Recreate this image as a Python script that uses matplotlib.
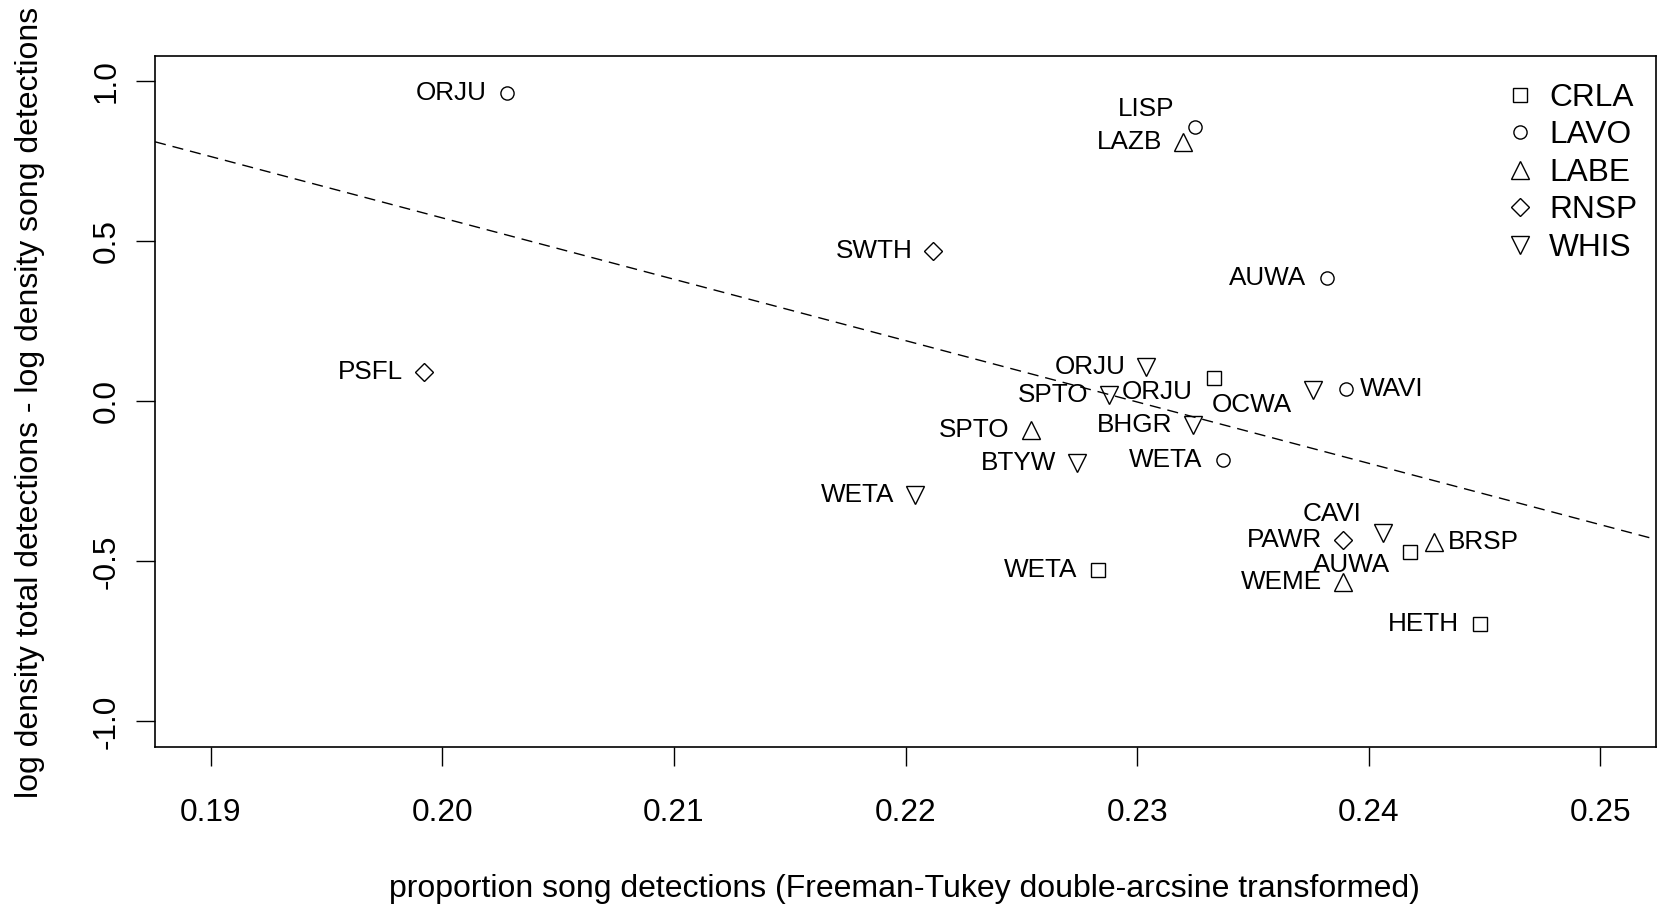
import numpy as np
import matplotlib
matplotlib.use("Agg")
import matplotlib.pyplot as plt
from matplotlib.lines import Line2D

plt.rcParams['font.family'] = ['Liberation Sans', 'DejaVu Sans']

# species points: label, group (legend), x, y
species = ["ORJU", "LISP", "LAZB", "SWTH", "AUWA", "PSFL", "ORJU", "ORJU",
           "SPTO", "OCWA", "WAVI", "SPTO", "BHGR", "BTYW", "WETA", "WETA",
           "CAVI", "PAWR", "AUWA", "BRSP", "WEME", "WETA", "HETH"]
group = ["LAVO", "LAVO", "LABE", "RNSP", "LAVO", "RNSP", "WHIS", "CRLA",
         "WHIS", "WHIS", "LAVO", "LABE", "WHIS", "WHIS", "LAVO", "WHIS",
         "WHIS", "RNSP", "CRLA", "LABE", "LABE", "CRLA", "CRLA"]
x = [0.2028, 0.2325, 0.2320, 0.2212, 0.2382, 0.1992, 0.2304, 0.2333,
     0.2288, 0.2376, 0.2390, 0.2254, 0.2324, 0.2274, 0.2337, 0.2204,
     0.2406, 0.2389, 0.2418, 0.2428, 0.2389, 0.2283, 0.2448]
y = [0.963, 0.857, 0.811, 0.471, 0.385, 0.091, 0.108, 0.074,
     0.020, 0.036, 0.038, -0.090, -0.074, -0.194, -0.183, -0.292,
     -0.412, -0.433, -0.472, -0.439, -0.565, -0.527, -0.695]

groups = ["CRLA", "LAVO", "LABE", "RNSP", "WHIS"]

# fitted line (abline)
intercept = 4.407
slope = -19.17

xticks = [0.19, 0.20, 0.21, 0.22, 0.23, 0.24, 0.25]
yticks = [-1.0, -0.5, 0.0, 0.5, 1.0]

# styling
markers = {"CRLA": ("s", 10.5), "LAVO": ("o", 9.5), "LABE": ("^", 12.5),
           "RNSP": ("D", 9.5), "WHIS": ("v", 12.5)}
# label offsets in points (dx, dy, ha); default left of the point
offsets = {1: (-15, 13, "right"), 7: (-15, -10, "right"), 9: (-15, -11, "right"),
           10: (10, 0, "left"), 16: (-15, 14, "right"), 18: (-15, -9, "right"),
           19: (10.5, 0, "left")}

fig = plt.figure(figsize=(16.58, 9.07), dpi=100)
ax = fig.add_axes([0.0935, 0.1764, 0.9053, 0.7623])

for i in range(len(x)):
    m, ms = markers[group[i]]
    ax.plot(x[i], y[i], linestyle="none", marker=m, markersize=ms,
            markerfacecolor="none", markeredgecolor="black", markeredgewidth=1.0)
    dx, dy, ha = offsets.get(i, (-15, 0, "right"))
    ax.annotate(species[i], (x[i], y[i]), xytext=(dx, dy), textcoords="offset points",
                ha=ha, va="center", fontsize=18.8)

xl = (0.19 - 0.0024, 0.25 + 0.0024)
yl = (-1.08, 1.08)
xx = np.array(xl)
ax.plot(xx, intercept + slope * xx, color="black", linewidth=1.0, dashes=(8, 5))

ax.set_xlim(xl)
ax.set_ylim(yl)
ax.set_xticks(xticks)
ax.set_xticklabels(["%.2f" % v for v in xticks])
ax.set_yticks(yticks)
ax.set_yticklabels(["%.1f" % v for v in yticks], rotation=90, va="center")
ax.tick_params(axis="both", direction="out", length=14, width=1.0, labelsize=22.8)
ax.tick_params(axis="x", pad=22.8)
ax.tick_params(axis="y", pad=10)
for s in ax.spines.values():
    s.set_linewidth(1.2)

handles = [Line2D([], [], linestyle="none", marker=markers[g][0], markersize=markers[g][1],
                  markerfacecolor="none", markeredgecolor="black", markeredgewidth=1.0)
           for g in groups]
ax.legend(handles, groups, loc="upper right", bbox_to_anchor=(1.0, 0.988),
          frameon=False, fontsize=22.8,
          handlelength=0.8, handletextpad=0.5, labelspacing=0.235,
          borderpad=0.3, borderaxespad=0.3)

fig.text(0.5456, 1 - 889 / 907, "proportion song detections (Freeman-Tukey double-arcsine transformed)",
         ha="center", va="center", fontsize=23)
fig.text(30 / 1658, 1 - 402 / 907, "log density total detections - log density song detections",
         ha="center", va="center", rotation=90, fontsize=23)

plt.savefig("out.png", dpi=100)
